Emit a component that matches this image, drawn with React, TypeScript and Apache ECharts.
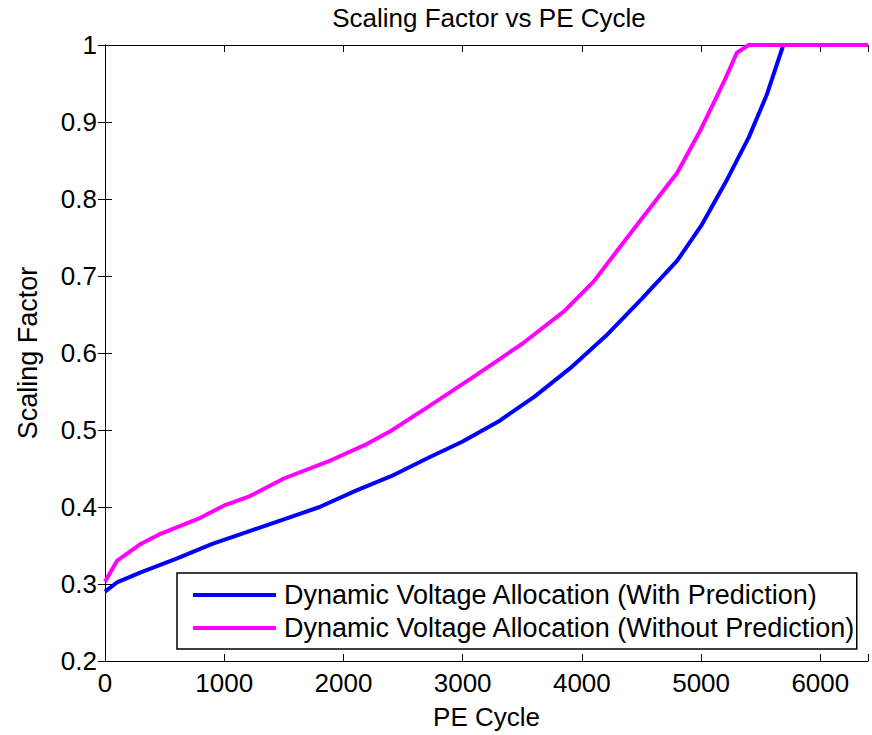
import React, { useEffect, useRef } from "react";
import * as echarts from "echarts";

const blueX = [0, 100, 300, 600, 900, 1200, 1500, 1800, 2100, 2400, 2700, 3000, 3300, 3600, 3900, 4200, 4500, 4800, 5000, 5200, 5400, 5550, 5690, 6400];
const blueY = [0.29, 0.302, 0.315, 0.333, 0.352, 0.368, 0.384, 0.4, 0.421, 0.44, 0.463, 0.485, 0.511, 0.543, 0.58, 0.622, 0.67, 0.72, 0.765, 0.82, 0.88, 0.935, 1.0, 1.0];

const magentaX = [0, 100, 300, 450, 800, 1000, 1200, 1500, 1900, 2200, 2400, 2700, 3100, 3500, 3850, 4100, 4400, 4800, 5000, 5200, 5300, 5400, 6400];
const magentaY = [0.303, 0.33, 0.352, 0.364, 0.386, 0.402, 0.413, 0.437, 0.461, 0.482, 0.499, 0.529, 0.57, 0.612, 0.654, 0.693, 0.754, 0.834, 0.891, 0.955, 0.99, 1.0, 1.0];

const seriesNames = [
  "Dynamic Voltage Allocation (With Prediction)",
  "Dynamic Voltage Allocation (Without Prediction)",
];
const titleText = "Scaling Factor vs PE Cycle";
const xName = "PE Cycle";
const yName = "Scaling Factor";

const FONT = "'Liberation Sans', Arial, sans-serif";

export default function App() {
  const ref = useRef<HTMLDivElement>(null);
  useEffect(() => {
    if (!ref.current) return;
    const chart = echarts.init(ref.current, null, { renderer: "svg" });
    const pair = (xs: number[], ys: number[]) => xs.map((x, i) => [x, ys[i]]);
    const tickStyle = { show: true, inside: true, length: 7, lineStyle: { color: "#000", width: 1 } };
    const lineStyleAxis = { show: true, lineStyle: { color: "#000", width: 1 } };
    chart.setOption({
      animation: false,
      backgroundColor: "#fff",
      textStyle: { fontFamily: FONT, color: "#000" },
      title: {
        text: titleText,
        left: 484,
        top: 0,
        textAlign: "center",
        textStyle: { fontFamily: FONT, fontSize: 26, fontWeight: "normal", color: "#000" },
      },
      grid: { left: 105, right: 4, top: 45, bottom: 72, containLabel: false },
      legend: {
        orient: "vertical",
        left: 177,
        top: 573,
        icon: "rect",
        itemWidth: 83,
        itemHeight: 4,
        itemGap: 3,
        padding: [7, 1, 6, 16],
        borderColor: "#000",
        borderWidth: 1.5,
        backgroundColor: "#fff",
        textStyle: { fontFamily: FONT, fontSize: 27, color: "#000", lineHeight: 30, padding: [0, 0, 0, 3] },
        data: seriesNames,
      },
      xAxis: [
        {
          type: "value",
          min: 0,
          max: 6400,
          interval: 1000,
          position: "bottom",
          name: xName,
          nameLocation: "middle",
          nameGap: 43,
          nameTextStyle: { fontFamily: FONT, fontSize: 26, color: "#000" },
          axisLine: lineStyleAxis,
          axisTick: tickStyle,
          splitLine: { show: false },
          axisLabel: {
            fontFamily: FONT,
            fontSize: 26,
            color: "#000",
            margin: 9,
            formatter: (v: number) => (v % 1000 === 0 ? String(v) : ""),
          },
        },
        {
          type: "value",
          min: 0,
          max: 6400,
          interval: 1000,
          position: "top",
          axisLine: lineStyleAxis,
          axisTick: tickStyle,
          splitLine: { show: false },
          axisLabel: { show: false },
        },
      ],
      yAxis: [
        {
          type: "value",
          min: 0.2,
          max: 1,
          interval: 0.1,
          position: "left",
          name: yName,
          nameLocation: "middle",
          nameGap: 64,
          nameRotate: 90,
          nameTextStyle: { fontFamily: FONT, fontSize: 27, color: "#000" },
          axisLine: lineStyleAxis,
          axisTick: tickStyle,
          splitLine: { show: false },
          axisLabel: { fontFamily: FONT, fontSize: 26, color: "#000", margin: 8 },
        },
        {
          type: "value",
          min: 0.2,
          max: 1,
          interval: 0.1,
          position: "right",
          axisLine: lineStyleAxis,
          axisTick: tickStyle,
          splitLine: { show: false },
          axisLabel: { show: false },
        },
      ],
      series: [
        {
          name: seriesNames[0],
          type: "line",
          data: pair(blueX, blueY),
          showSymbol: false,
          clip: false,
          color: "#0000FF",
          lineStyle: { color: "#0000FF", width: 4 },
          itemStyle: { color: "#0000FF" },
          z: 3,
        },
        {
          name: seriesNames[1],
          type: "line",
          data: pair(magentaX, magentaY),
          showSymbol: false,
          clip: false,
          color: "#FF00FF",
          lineStyle: { color: "#FF00FF", width: 4 },
          itemStyle: { color: "#FF00FF" },
          z: 4,
        },
      ],
    });
    return () => chart.dispose();
  }, []);
  return (
    <div
      ref={ref}
      style={{ position: "fixed", left: 0, top: 0, width: 872, height: 735, background: "#fff" }}
    />
  );
}
